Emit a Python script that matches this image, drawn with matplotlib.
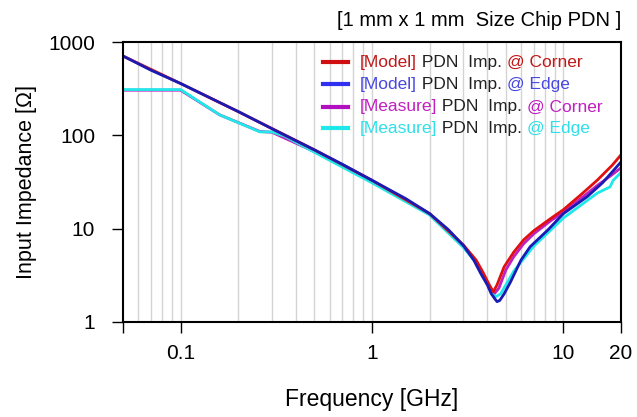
import matplotlib.pyplot as plt
from matplotlib.ticker import FixedLocator, NullFormatter, NullLocator

plt.rcParams['font.family'] = ['Liberation Sans', 'DejaVu Sans']

# frequency [GHz] / impedance [ohm]
f_model_edge = [0.05, 0.07, 0.1, 0.15, 0.2, 0.3, 0.5, 0.7, 1.0, 1.5, 2.0, 2.5, 3.0, 3.4, 3.7,
                4.0, 4.2, 4.4, 4.5, 4.65, 4.9, 5.3, 6.0, 6.7, 8.3, 10.0, 13.3, 16.0, 20.0]
z_model_edge = [710, 500, 360, 240, 180, 118, 70, 49, 33, 21, 14.5, 9.8, 6.6, 4.6, 3.3,
                2.5, 2.0, 1.75, 1.65, 1.7, 2.0, 2.7, 4.6, 6.4, 9.7, 14.5, 22, 31, 52]

f_model_corner = [0.05, 0.1, 0.2, 0.5, 1.0, 2.0, 3.0, 3.5, 3.8, 4.1, 4.3, 4.5, 4.9, 5.5,
                  6.2, 7.0, 8.6, 10.0, 12.3, 15.0, 18.0, 20.0]
z_model_corner = [710, 360, 180, 70, 33, 14.5, 6.7, 4.6, 3.4, 2.5, 2.1, 2.5, 3.9, 5.6,
                  7.6, 9.5, 12.9, 16, 23, 33, 48, 62]

f_meas_corner = [0.05, 0.1, 0.16, 0.26, 0.3, 0.5, 1.0, 2.0, 3.0, 3.5, 3.8, 4.1, 4.35, 4.6,
                 5.0, 5.5, 6.2, 7.0, 8.6, 10.0, 12.3, 15.0, 18.0, 20.0]
z_meas_corner = [305, 305, 166, 110, 108, 67, 32, 14.2, 6.4, 4.4, 3.2, 2.4, 2.0, 2.3,
                 3.6, 5.0, 6.9, 8.8, 12.2, 15, 21, 29, 38, 45]

f_meas_edge = [0.05, 0.1, 0.16, 0.26, 0.3, 0.35, 0.5, 1.0, 2.0, 3.0, 3.5, 4.0, 4.25, 4.4,
               4.7, 5.5, 7.0, 10.0, 15.0, 17.5, 18.2, 20.0]
z_meas_edge = [310, 310, 166, 109, 109, 98, 66, 31, 14, 6.3, 4.3, 2.6, 2.0, 1.85,
               2.0, 3.5, 6.5, 13, 24, 28, 33, 40]

fig = plt.figure(figsize=(6.37, 4.17), dpi=100)
ax = fig.add_axes([0.193, 0.228, 0.782, 0.671])

ax.plot(f_meas_corner, z_meas_corner, color='#c020c0', lw=2)
ax.plot(f_meas_edge, z_meas_edge, color='#20e8e8', lw=2)
ax.plot(f_model_corner, z_model_corner, color='#e01010', lw=2)
ax.plot(f_model_edge, z_model_edge, color='#1a1ab4', lw=2)

ax.set_xscale('log')
ax.set_yscale('log')
ax.set_xlim(0.05, 20)
ax.set_ylim(1, 1000)

ax.xaxis.set_major_locator(FixedLocator([0.05, 0.1, 1, 10, 20]))
ax.set_xticklabels(['', '0.1', '1', '10', '20'])
ax.xaxis.set_minor_locator(NullLocator())
ax.yaxis.set_major_locator(FixedLocator([1, 10, 100, 1000]))
ax.set_yticklabels(['1', '10', '100', '1000'])
ax.yaxis.set_minor_locator(NullLocator())
ax.yaxis.set_minor_formatter(NullFormatter())
ax.tick_params(direction='out', length=8, width=1, labelsize=15, pad=8)
ax.tick_params(axis='y', pad=12)

grid_f = [0.06, 0.07, 0.08, 0.09, 0.1, 0.2, 0.3, 0.4, 0.5, 0.6, 0.7, 0.8, 0.9, 1,
          2, 3, 4, 5, 6, 7, 8, 9, 10]
for g in grid_f:
    ax.axvline(g, color='#d4d4d4', lw=1, zorder=0)

for s in ax.spines.values():
    s.set_linewidth(1.5)

ax.set_xlabel('Frequency [GHz]', fontsize=16.5, labelpad=18)
ax.set_ylabel('Input Impedance [Ω]', fontsize=15.5, labelpad=8)

fig.text(0.976, 0.952, '[1 mm x 1 mm  Size Chip PDN ]', fontsize=14.5, ha='right', va='center')

# legend with coloured label parts
legend_rows = [
    ('#d01010', '#c01818', '[Model]', '@ Corner'),
    ('#3030f0', '#4848e0', '[Model]', '@ Edge'),
    ('#b010c0', '#c020c0', '[Measure]', '@ Corner'),
    ('#20e8e8', '#30e0e8', '[Measure]', '@ Edge'),
]
row_y = [62, 84, 107, 128]
for (lc, tc, a, b), py in zip(legend_rows, row_y):
    yf = 1 - py / 417
    fig.add_artist(plt.Line2D([323 / 637, 348 / 637], [yf, yf], color=lc, lw=3))
    t1 = fig.text(360 / 637, yf, a, color=tc, fontsize=12.5, va='center')
    t2 = ax.annotate(' PDN  Imp. ', xy=(1, 0), xycoords=t1, va='bottom', fontsize=12.5, color='#202020')
    ax.annotate(b, xy=(1, 0), xycoords=t2, va='bottom', fontsize=12.5, color=tc)

fig.savefig('out.png', dpi=100)
